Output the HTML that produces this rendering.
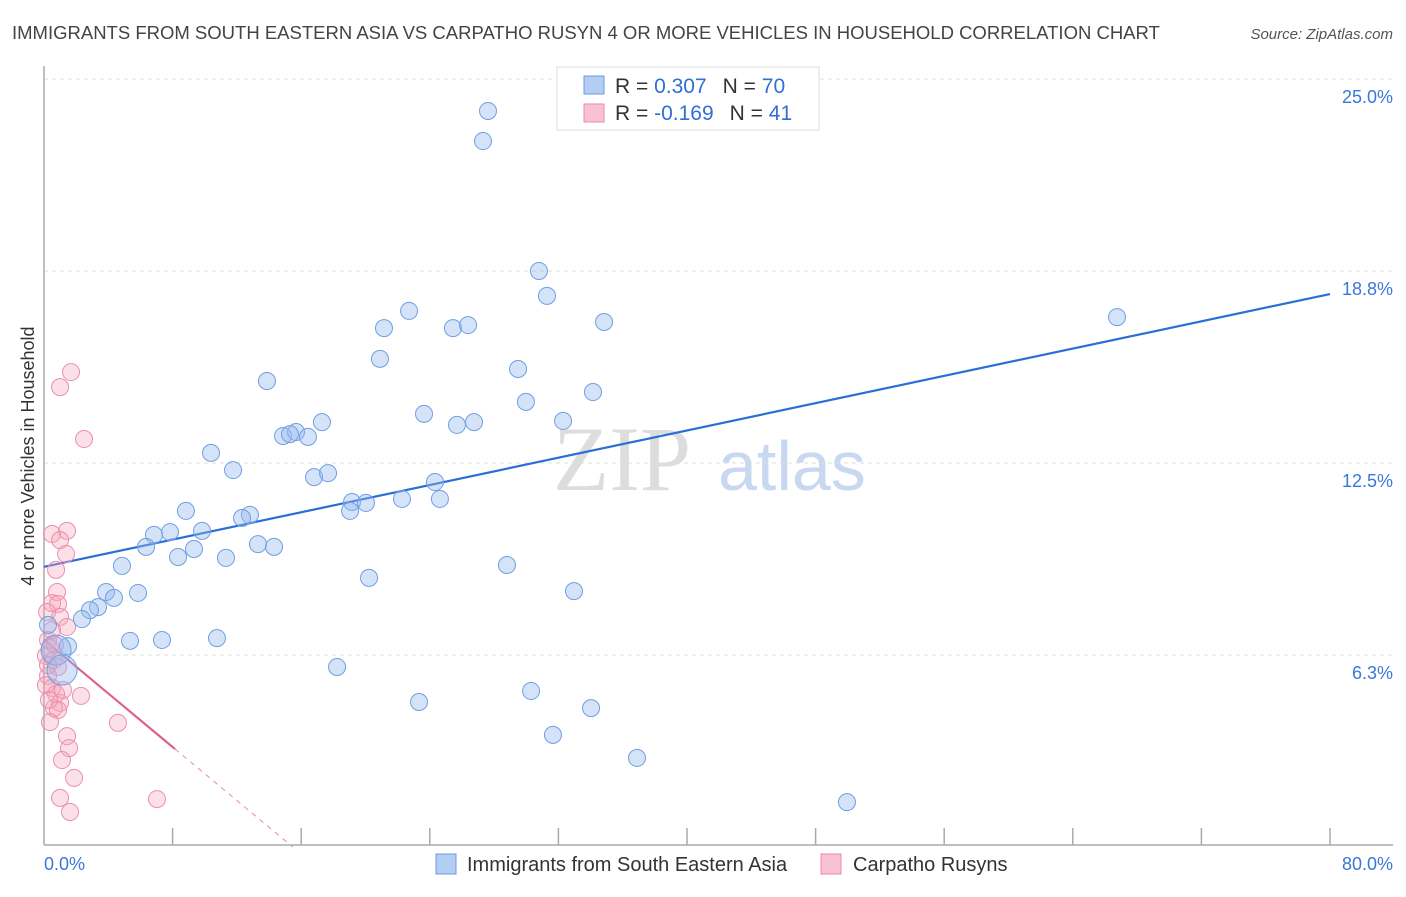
<!DOCTYPE html>
<html><head><meta charset="utf-8"><style>
body{margin:0;background:#fff;font-family:"Liberation Sans",sans-serif}
</style></head><body>
<svg width="1406" height="892" xmlns="http://www.w3.org/2000/svg">
<text x="12" y="39" font-size="18.5" fill="#444">IMMIGRANTS FROM SOUTH EASTERN ASIA VS CARPATHO RUSYN 4 OR MORE VEHICLES IN HOUSEHOLD CORRELATION CHART</text>
<text x="1393" y="39" font-size="15" fill="#555" font-style="italic" text-anchor="end">Source: ZipAtlas.com</text>
<text transform="translate(34,456) rotate(-90)" font-size="18" fill="#333" text-anchor="middle">4 or more Vehicles in Household</text>
<g><text x="553" y="490" font-size="92" fill="#ddd" font-family="Liberation Serif,serif">ZIP</text><text x="718" y="490" font-size="70" fill="#c8d8f0">atlas</text></g>
<g id="grid"></g><g id="axes"></g><g id="lines"></g><g id="pts"></g>
<g>
<rect x="557" y="67" width="262" height="63" fill="#fff" stroke="#ddd"/>
<rect x="584" y="76" width="20" height="18" fill="#b3cdf3" stroke="#6d9be0"/>
<rect x="584" y="104" width="20" height="18" fill="#f8c2d2" stroke="#e88aaa"/>
<text x="615" y="93" font-size="21" fill="#333">R = <tspan fill="#2f6fd6"> 0.307</tspan><tspan dx="16">N = </tspan><tspan fill="#2f6fd6">70</tspan></text>
<text x="615" y="120" font-size="21" fill="#333">R = <tspan fill="#2f6fd6">-0.169</tspan><tspan dx="16">N = </tspan><tspan fill="#2f6fd6"> 41</tspan></text>
</g>
<g>
<rect x="436" y="854" width="20" height="20" fill="#b3cdf3" stroke="#6d9be0"/>
<text x="467" y="871" font-size="20" fill="#333">Immigrants from South Eastern Asia</text>
<rect x="821" y="854" width="20" height="20" fill="#f8c2d2" stroke="#e88aaa"/>
<text x="853" y="871" font-size="20" fill="#333">Carpatho Rusyns</text>
</g>
</svg>
<script>
const yTicks=[6.25,12.5,18.75,25];
const yTickLabels=["6.3%","12.5%","18.8%","25.0%"];
const xTickLabels=["0.0%","80.0%"];
const blueX=[27.62,27.31,30.79,31.29,34.84,66.75,22.71,21.15,25.44,26.38,20.90,29.49,13.87,34.15,29.98,23.64,25.69,26.75,32.29,17.29,14.87,15.68,15.30,16.42,10.39,11.76,16.80,17.67,24.32,19.16,20.03,22.27,24.63,19.04,8.83,12.81,12.32,7.84,6.84,9.83,6.35,13.31,14.31,9.33,8.34,11.32,28.80,4.85,20.22,32.97,3.86,5.85,4.35,3.36,2.86,2.36,5.35,7.34,10.76,1.49,0.75,1.12,18.23,30.30,23.33,34.03,31.66,36.89,49.95,0.25];
const blueY=[23.96,22.98,18.75,17.94,17.09,17.25,17.45,16.89,16.89,16.99,15.89,15.56,15.17,14.81,14.49,14.10,13.74,13.83,13.87,13.83,13.38,13.51,13.44,13.35,12.83,12.27,12.04,12.17,11.88,11.23,11.20,11.33,11.33,10.94,10.94,10.81,10.71,10.25,10.16,10.29,9.77,9.86,9.77,9.70,9.44,9.41,9.18,9.15,8.76,8.33,8.30,8.27,8.11,7.81,7.71,7.42,6.71,6.74,6.80,6.54,6.41,5.76,5.86,5.08,4.72,4.52,3.65,2.90,1.46,7.23];
const pinkX=[1.68,1.00,2.49,1.43,0.50,1.00,1.37,0.81,0.50,0.87,1.00,1.43,0.25,0.37,0.12,0.62,0.87,0.25,0.50,0.75,2.30,1.00,0.62,0.87,0.37,4.60,1.43,1.56,1.12,1.87,1.00,7.03,1.62,0.25,0.12,0.50,0.75,0.68,0.31,1.18,0.19];
const pinkY=[15.46,14.97,13.28,10.29,10.19,9.99,9.54,8.30,7.94,7.91,7.49,7.16,6.74,6.48,6.22,6.09,5.86,5.57,5.18,4.98,4.92,4.69,4.52,4.46,4.07,4.04,3.61,3.22,2.83,2.25,1.60,1.56,1.14,5.92,5.27,7.06,9.02,6.58,4.79,5.11,7.65];
const blueTrend=[9.12,18.0];
const pinkTrend=[6.74,3.19];
const X0=44,X1=1330,Y0=847;
const sx=v=>X0+v*(X1-X0)/80;
const sy=v=>Y0-v*30.72;
const NS="http://www.w3.org/2000/svg";
function mk(p,t,a){const e=document.createElementNS(NS,t);for(const k in a)e.setAttribute(k,a[k]);p.appendChild(e);return e;}
const grid=document.getElementById('grid');
yTicks.forEach((t,i)=>{
 const l=mk(grid,'line',{x1:X0,x2:1393,y1:sy(t),y2:sy(t),stroke:'#ddd','stroke-dasharray':'4,4'});
 
 
 const tx=mk(grid,'text',{x:1393,y:sy(t)+24,'font-size':18,fill:'#3a78d8','text-anchor':'end'});
 tx.textContent=yTickLabels[i];
 
 
});
const ax=document.getElementById('axes');
mk(ax,'line',{x1:X0,x2:X0,y1:66,y2:845,stroke:'#aaa','stroke-width':1.5});
mk(ax,'line',{x1:X0,x2:1393,y1:845,y2:845,stroke:'#aaa','stroke-width':1.5});
for(let i=1;i<=10;i++){const x=sx(i*8);mk(ax,'line',{x1:x,x2:x,y1:828,y2:845,stroke:'#aaa','stroke-width':1.5});}
const xl0=mk(ax,'text',{x:X0,y:870,'font-size':18,fill:'#3a78d8'});xl0.textContent=xTickLabels[0];


const xl1=mk(ax,'text',{x:1393,y:870,'font-size':18,fill:'#3a78d8','text-anchor':'end'});xl1.textContent=xTickLabels[1];


const pts=document.getElementById('pts');
pinkX.forEach((x,i)=>{
 const c=mk(pts,'circle',{cx:sx(x),cy:sy(pinkY[i]),r:8.5,fill:'rgba(245,165,190,0.35)',stroke:'#ec8fae','stroke-width':1});
 
 
});
blueX.forEach((x,i)=>{
 const big=(i===60||i===61);
 const c=mk(pts,'circle',{cx:sx(x),cy:sy(blueY[i]),r:big?15:8.5,fill:'rgba(150,185,240,0.4)',stroke:'#6f9fe2','stroke-width':1});
 
 
});
const ln=document.getElementById('lines');
const bl=mk(ln,'line',{x1:sx(0),y1:sy(blueTrend[0]),x2:sx(80),y2:sy(blueTrend[1]),stroke:'#2a6fd6','stroke-width':2.2});


const slope=(pinkTrend[1]-pinkTrend[0])/8.15;
const pl=mk(ln,'line',{x1:sx(0),y1:sy(pinkTrend[0]),x2:sx(8.15),y2:sy(pinkTrend[1]),stroke:'#e0608a','stroke-width':2.2});


const xe=-pinkTrend[0]/slope;
const pd=mk(ln,'line',{x1:sx(8.15),y1:sy(pinkTrend[1]),x2:sx(xe),y2:sy(0),stroke:'#e88aaa','stroke-width':1,'stroke-dasharray':'5,5'});


</script>
</body></html>
